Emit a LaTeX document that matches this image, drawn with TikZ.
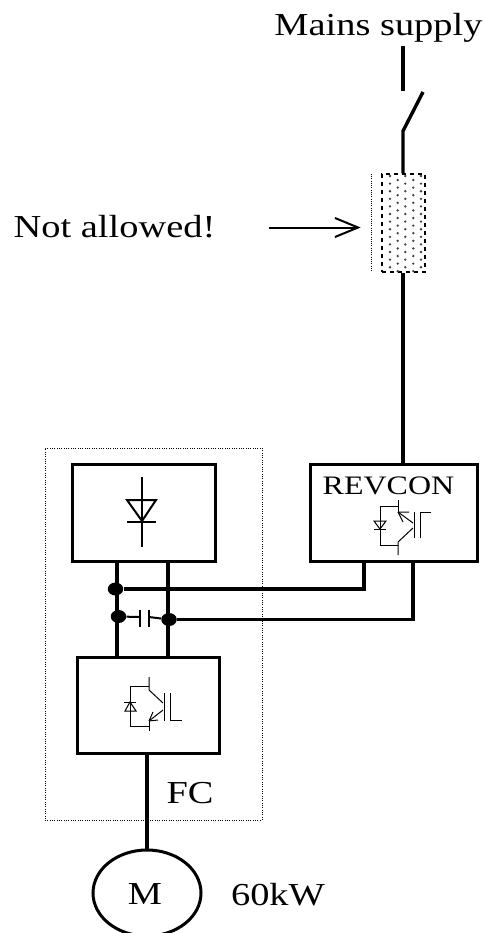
\documentclass[tikz,border=0pt]{standalone}
\usepackage{fontspec}
\setmainfont[FakeStretch=1.2]{Liberation Serif}
\usetikzlibrary{arrows.meta,shapes.geometric}
\tikzset{
  unitbox/.style={draw,line width=3pt*0.75,rectangle,inner sep=0pt,outer sep=0pt},
  wire/.style={line width=3.4pt*0.75},
  thinwire/.style={line width=3.2pt*0.75},
  sym/.style={line width=1pt*0.75},
  sym2/.style={line width=2pt*0.75},
  junction/.style={draw=none,fill=black,ellipse,minimum width=15.5pt*0.75,minimum height=13pt*0.75,inner sep=0pt},
  biglabel/.style={inner sep=0pt,anchor=base,font=\fontsize{24}{28}\selectfont},
  smalllabel/.style={inner sep=0pt,anchor=base,font=\fontsize{20}{24}\selectfont},
  fusedot/.style={fill=black!75,draw=none},
}
\begin{document}
\begin{tikzpicture}[x=0.75pt,y=-0.75pt]
\useasboundingbox (0,0) rectangle (485,933);
% enclosure
\node[draw,densely dotted,line width=1pt*0.75,rectangle,minimum width=217*0.75pt,minimum height=372*0.75pt,inner sep=0pt] (encl) at (153.5,634) {};
% texts
\node[biglabel] (mains) at (378.5,35) {Mains supply};
\node[biglabel] (notallowed) at (114.5,237) {Not allowed!};
\node[biglabel] (fc) at (190,803) {FC};
\node[biglabel] (kw) at (278,905) {60kW};
\node[smalllabel] (revlabel) at (388.5,494) {REVCON};
% boxes
\node[unitbox,minimum width=167*0.75pt,minimum height=97*0.75pt] (rev) at (393.5,512.5) {};
\node[unitbox,minimum width=143*0.75pt,minimum height=97*0.75pt] (rect) at (143.5,512.5) {};
\node[unitbox,minimum width=142*0.75pt,minimum height=96*0.75pt] (inv) at (148,705) {};
\node[draw,ellipse,line width=3pt*0.75,minimum width=108*0.75pt,minimum height=86*0.75pt,inner sep=0pt] (motor) at (147,893) {};
\node[biglabel] (mlabel) at (145,904) {M};
% fuse
\node[draw,dashed,line width=1.2pt*0.75,rectangle,minimum width=43*0.75pt,minimum height=98*0.75pt,inner sep=0pt] (fuse) at (403.5,223) {};
\foreach \c/\xx/\o in {0/390/0,1/397.7/1,2/405.3/0,3/413.3/1,4/421/0}{
  \foreach \r in {0,...,12}{
    \fill[fusedot] (\xx,{176+\o*4+\r*7.6}) circle[radius=1.3];
  }
}
\coordinate (fuseL1) at (371,174);
\coordinate (fuseL2) at (371,272);
\draw[densely dotted,line width=0.9pt*0.75] (fuseL1) -- (fuseL2);
% switch
\coordinate (sw0) at (403,46);
\coordinate (sw1) at (403,91);
\coordinate (sw2) at (423,92);
\coordinate (sw3) at (403,131);
\draw[wire] (sw0) -- (sw1);
\draw[wire,line join=round] (sw2) -- (sw3) -- (fuse.north -| sw3);
\draw[wire] (fuse.south -| sw3) -- (rev.north -| sw3);
% arrow
\coordinate (arrS) at (269,227.5);
\coordinate (arrE) at (358,227.5);
\coordinate (arrU) at (335,218);
\coordinate (arrD) at (335,237);
\draw[line width=2pt*0.75] (arrS) -- (arrE);
\draw[line width=2pt*0.75,line join=miter] (arrU) -- (arrE) -- (arrD);
% bus junctions
\node[junction] (j1) at (115.5,589) {};
\node[junction] (j2) at (118.5,616.5) {};
\node[junction] (j3) at (169,619.5) {};
\coordinate (a) at (364,561);
\coordinate (b) at (413,561);
\draw[thinwire] (a) |- (j1);
\draw[thinwire] (b) |- (j3);
\coordinate (l1) at (117,561);
\coordinate (l2) at (117,657);
\coordinate (r1) at (168,561);
\coordinate (r2) at (168,657);
\draw[thinwire] (l1) -- (l2);
\draw[thinwire] (r1) -- (r2);
% capacitor
\coordinate (c1t) at (140,610);
\coordinate (c1b) at (140,627);
\coordinate (c2t) at (149,610);
\coordinate (c2b) at (149,627);
\draw[sym2] (c1t) -- (c1b);
\draw[sym2] (c2t) -- (c2b);
\draw[sym2] (j2) -- (140,617);
\draw[sym2] (149,617) -- (j3);
% motor feed
\draw[wire] (inv.south -| motor) -- (motor.north);
% rectifier diode
\draw[sym2] (142,477) -- (142,547);
\draw[sym2,line join=miter] (127,500) -- (156,500) -- (142,521) -- cycle;
\draw[sym2] (127,522) -- (156,522);
% inverter IGBT
\draw[sym] (149,677) -- (149,690) -- (163,703);
\draw[sym] (149,731) -- (149,721);
\draw[sym] (130,686) -- (149,686);
\draw[sym] (130,686) -- (130,726) -- (149,726);
\draw[sym] (163,710) -- (149,721);
\draw[sym] (149,721) -- (158,720) (149,721) -- (153,712);
\draw[sym] (164,693) -- (164,721);
\draw[sym] (170,693) -- (170,720) -- (182,720);
\draw[sym] (125,711) -- (136,711) -- (130,702) -- cycle;
\draw[sym] (124,702) -- (136,702);
% revcon IGBT
\draw[sym] (398,500) -- (398,512);
\draw[sym] (398,555) -- (398,542) -- (413,528);
\draw[sym] (380,506) -- (398,506);
\draw[sym] (380,506) -- (380,545) -- (398,545);
\draw[sym] (413,523) -- (398,512);
\draw[sym] (398,512) -- (409,512) (398,512) -- (403,522);
\draw[sym] (414,512) -- (414,538);
\draw[sym] (420,538) -- (420,512) -- (431,512);
\draw[sym] (374,521) -- (386,521) -- (380,529) -- cycle;
\draw[sym] (374,529) -- (386,529);
\end{tikzpicture}
\end{document}
